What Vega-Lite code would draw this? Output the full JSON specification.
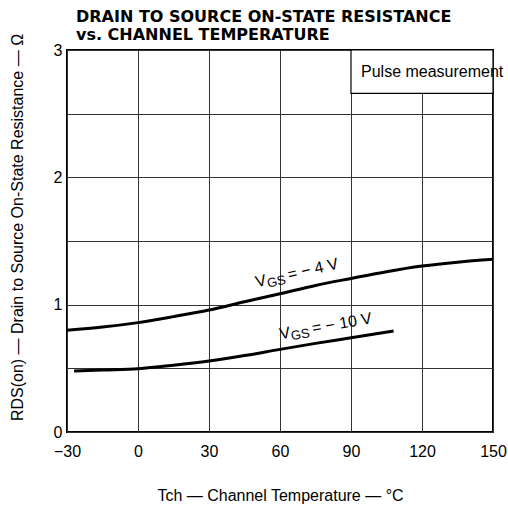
{
  "$schema": "https://vega.github.io/schema/vega-lite/v6.json",
  "width": 426,
  "height": 382,
  "autosize": {"type": "none"},
  "padding": {"left": 67, "top": 50, "right": 15, "bottom": 78},
  "background": "white",
  "title": {
    "text": ["DRAIN TO SOURCE ON-STATE RESISTANCE", "vs. CHANNEL TEMPERATURE"],
    "anchor": "start",
    "frame": "group",
    "dx": 9,
    "offset": -10,
    "font": "DejaVu Sans",
    "fontSize": 16,
    "fontWeight": "bold",
    "lineHeight": 18,
    "color": "black"
  },
  "config": {
    "view": {"stroke": "black", "strokeWidth": 2},
    "font": "Liberation Sans",
    "text": {"font": "Liberation Sans", "color": "black"}
  },
  "datasets": {
    "curves": [
      {"vgs": "-4", "x": -30, "y": 0.80},
      {"vgs": "-4", "x": -15, "y": 0.824},
      {"vgs": "-4", "x": 0, "y": 0.859},
      {"vgs": "-4", "x": 15, "y": 0.906},
      {"vgs": "-4", "x": 30, "y": 0.958},
      {"vgs": "-4", "x": 45, "y": 1.023},
      {"vgs": "-4", "x": 60, "y": 1.086},
      {"vgs": "-4", "x": 75, "y": 1.151},
      {"vgs": "-4", "x": 90, "y": 1.206},
      {"vgs": "-4", "x": 105, "y": 1.259},
      {"vgs": "-4", "x": 120, "y": 1.303},
      {"vgs": "-4", "x": 135, "y": 1.334},
      {"vgs": "-4", "x": 150, "y": 1.356},
      {"vgs": "-10", "x": -27, "y": 0.479},
      {"vgs": "-10", "x": -15, "y": 0.487},
      {"vgs": "-10", "x": 0, "y": 0.497},
      {"vgs": "-10", "x": 15, "y": 0.524},
      {"vgs": "-10", "x": 30, "y": 0.557},
      {"vgs": "-10", "x": 45, "y": 0.600},
      {"vgs": "-10", "x": 60, "y": 0.649},
      {"vgs": "-10", "x": 75, "y": 0.696},
      {"vgs": "-10", "x": 90, "y": 0.740},
      {"vgs": "-10", "x": 108, "y": 0.793}
    ],
    "labels": [
      {"vgs": "-4", "x": 50.2, "y": 1.136, "v": "V", "sub": "GS", "rest": "= − 4 V"},
      {"vgs": "-10", "x": 60.2, "y": 0.728, "v": "V", "sub": "GS", "rest": "= − 10 V"}
    ],
    "box": [
      {"x": 90, "x2": 150, "y": 2.66, "y2": 3, "note": "Pulse measurement", "ym": 2.83}
    ]
  },
  "encoding": {
    "x": {
      "field": "x",
      "type": "quantitative",
      "scale": {"domain": [-30, 150], "nice": false, "zero": false},
      "axis": {
        "values": [-30, 0, 30, 60, 90, 120, 150],
        "title": "Tch — Channel Temperature — °C",
        "grid": true,
        "gridColor": "#333",
        "gridWidth": 1,
        "ticks": false,
        "domain": false,
        "labelFontSize": 16,
        "labelColor": "black",
        "labelPadding": 11,
        "labelFlush": false,
        "titleFontSize": 16,
        "titleFontWeight": "normal",
        "titleColor": "black",
        "titlePadding": 28
      }
    },
    "y": {
      "field": "y",
      "type": "quantitative",
      "scale": {"domain": [0, 3], "nice": false},
      "axis": {
        "values": [0, 0.5, 1, 1.5, 2, 2.5, 3],
        "labelExpr": "datum.value % 1 === 0 ? format(datum.value, 'd') : ''",
        "title": "RDS(on) — Drain to Source On-State Resistance — Ω",
        "grid": true,
        "gridColor": "#333",
        "gridWidth": 1,
        "ticks": false,
        "domain": false,
        "labelFontSize": 16,
        "labelColor": "black",
        "labelPadding": 5,
        "labelFlush": false,
        "titleFontSize": 16,
        "titleFontWeight": "normal",
        "titleColor": "black",
        "titleX": -50,
        "titleY": 177,
        "titleAngle": 270,
        "titleAlign": "center",
        "titleBaseline": "middle"
      }
    }
  },
  "layer": [
    {
      "data": {"name": "box"},
      "mark": {"type": "rect", "fill": "white", "stroke": "black", "strokeWidth": 1.2},
      "encoding": {"x2": {"field": "x2"}, "y2": {"field": "y2"}}
    },
    {
      "data": {"name": "box"},
      "mark": {"type": "text", "align": "left", "baseline": "middle", "dx": 10, "fontSize": 16},
      "encoding": {"y": {"field": "ym", "type": "quantitative"}, "text": {"field": "note"}}
    },
    {
      "data": {"name": "curves"},
      "mark": {"type": "line", "color": "black", "strokeWidth": 3, "interpolate": "monotone"},
      "encoding": {"detail": {"field": "vgs"}}
    },
    {
      "data": {"name": "labels"},
      "mark": {"type": "text", "align": "left", "baseline": "alphabetic", "fontSize": 16},
      "encoding": {
        "text": {"field": "v"},
        "angle": {"field": "vgs", "type": "nominal", "scale": {"domain": ["-4", "-10"], "range": [347, 350]}, "legend": null}
      }
    },
    {
      "data": {"name": "labels"},
      "mark": {"type": "text", "align": "left", "baseline": "alphabetic", "fontSize": 13, "dx": 11, "dy": 3},
      "encoding": {
        "text": {"field": "sub"},
        "angle": {"field": "vgs", "type": "nominal", "scale": {"domain": ["-4", "-10"], "range": [347, 350]}, "legend": null}
      }
    },
    {
      "data": {"name": "labels"},
      "mark": {"type": "text", "align": "left", "baseline": "alphabetic", "fontSize": 16, "dx": 33},
      "encoding": {
        "text": {"field": "rest"},
        "angle": {"field": "vgs", "type": "nominal", "scale": {"domain": ["-4", "-10"], "range": [347, 350]}, "legend": null}
      }
    }
  ]
}
